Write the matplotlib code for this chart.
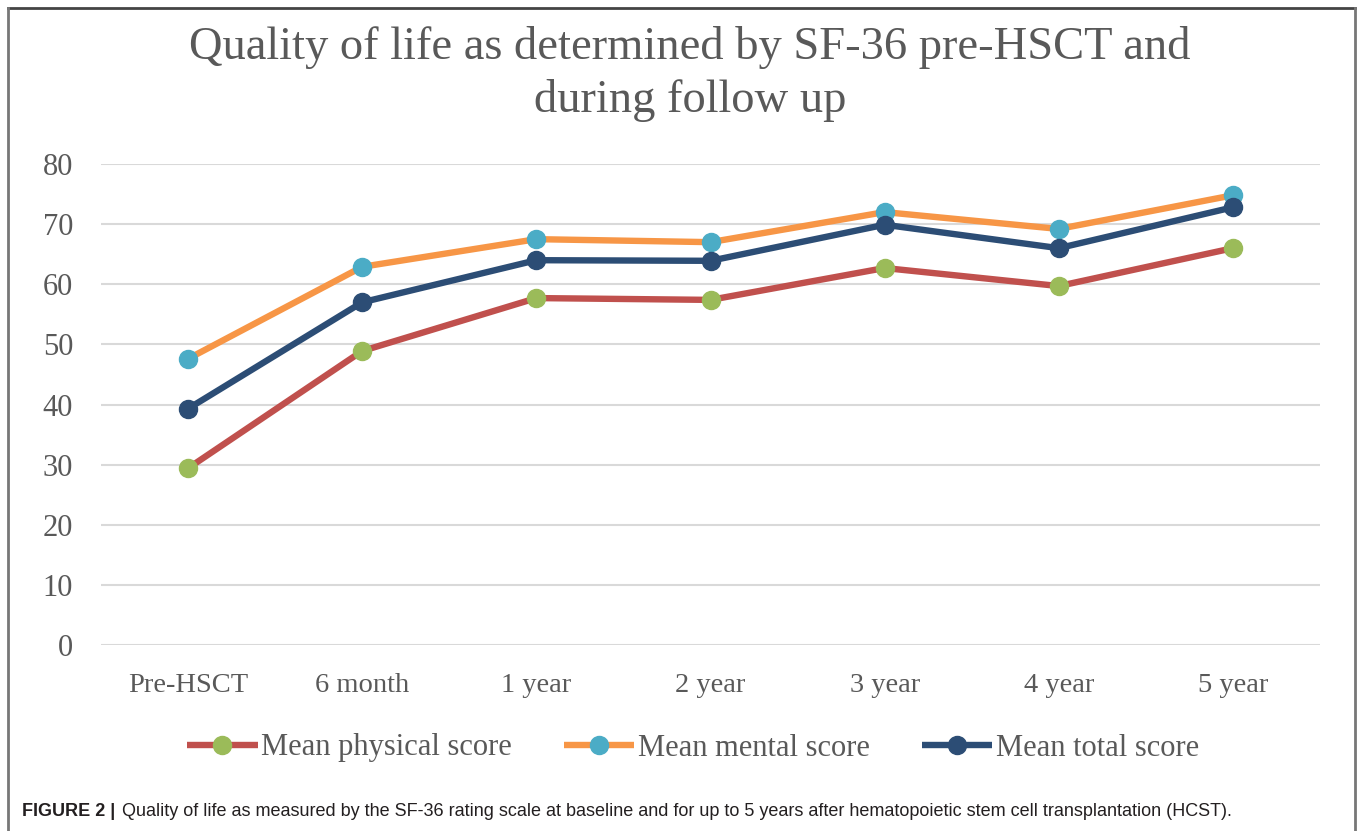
import matplotlib
matplotlib.use("Agg")
import matplotlib.pyplot as plt
from matplotlib.lines import Line2D

categories = ["Pre-HSCT", "6 month", "1 year", "2 year", "3 year", "4 year", "5 year"]
physical = [29.4, 48.9, 57.7, 57.4, 62.7, 59.7, 66.0]
mental = [47.6, 62.9, 67.5, 67.0, 72.0, 69.2, 74.8]
total = [39.3, 57.0, 64.0, 63.9, 69.9, 66.0, 72.8]
yticks = [0, 10, 20, 30, 40, 50, 60, 70, 80]

W, H = 1358, 831
fig = plt.figure(figsize=(W / 100, H / 100), dpi=100)
fig.patch.set_facecolor("white")

serif = ["Liberation Serif", "DejaVu Serif"]
gray = "#595959"

ax = fig.add_axes([101 / W, 1 - 645 / H, (1320 - 101) / W, (645 - 164) / H])
x = list(range(len(categories)))

series = [
    (physical, "#C0504D", "#9BBB59", "Mean physical score"),
    (mental, "#F79646", "#4BACC6", "Mean mental score"),
    (total, "#2C4D75", "#2C4D75", "Mean total score"),
]
handles = []
for vals, lc, mc, lab in series:
    h, = ax.plot(x, vals, color=lc, lw=4.6, marker="o", markersize=13,
                 markerfacecolor=mc, markeredgecolor=mc, label=lab,
                 solid_capstyle="butt", zorder=3)
    handles.append(h)

ax.set_xlim(-0.5, len(categories) - 0.5)
ax.set_ylim(0, 80)
ax.set_yticks(yticks)
ax.set_xticks(x)
ax.set_xticklabels(categories)
ax.grid(axis="y", color="#D9D9D9", lw=1.5, zorder=0)
ax.set_axisbelow(True)
for s in ax.spines.values():
    s.set_visible(False)
ax.tick_params(axis="both", length=0, labelcolor=gray)
ax.tick_params(axis="y", pad=20, labelsize=22)
ax.tick_params(axis="x", pad=20, labelsize=20.5)
for lbl in ax.get_xticklabels() + ax.get_yticklabels():
    lbl.set_family(serif)

fig.text(690 / W, 1 - 74 / H, "Quality of life as determined by SF-36 pre-HSCT and\nduring follow up",
         ha="center", va="center", fontsize=33.5, color=gray, family=serif,
         linespacing=1.3)

leg = fig.legend(handles=handles, loc="center", bbox_to_anchor=(693 / W, 1 - 748 / H),
                 ncol=3, frameon=False, prop={"family": serif, "size": 22},
                 labelcolor=gray, handlelength=2.3, handletextpad=0.12,
                 columnspacing=1.7)

cap_font = ["Liberation Sans", "DejaVu Sans"]
fig.text(22 / W, 1 - 812 / H, "FIGURE 2 |", ha="left", va="center", fontsize=12.95,
         fontweight="bold", color="#231F20", family=cap_font)
fig.text(122 / W, 1 - 812 / H,
         "Quality of life as measured by the SF-36 rating scale at baseline and for up to 5 years after hematopoietic stem cell transplantation (HCST).",
         ha="left", va="center", fontsize=12.95, color="#231F20", family=cap_font)

# outer frame
fig.add_artist(Line2D([7.5 / W, 1355 / W], [1 - 8 / H, 1 - 8 / H], color="#444444", lw=2,
                      transform=fig.transFigure))
fig.add_artist(Line2D([7.5 / W, 7.5 / W], [0, 1 - 8 / H], color="#777777", lw=2,
                      transform=fig.transFigure))
fig.add_artist(Line2D([1355 / W, 1355 / W], [0, 1 - 8 / H], color="#777777", lw=2,
                      transform=fig.transFigure))

fig.savefig("out.png", dpi=100)
